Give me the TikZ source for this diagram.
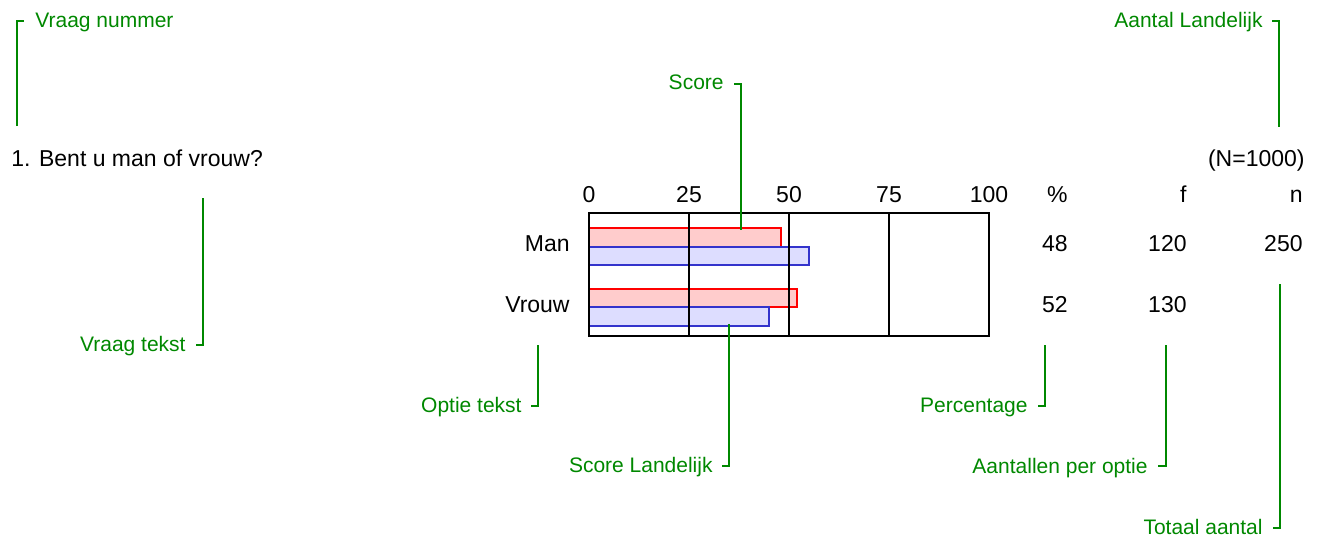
\documentclass[tikz,border=0pt]{standalone}
\usepackage{fontspec}
\setmainfont{Liberation Sans}
\begin{document}
\begin{tikzpicture}[x=0.5pt,y=-0.5pt]
\definecolor{anngreen}{RGB}{0,136,0}
\definecolor{barred}{RGB}{255,0,0}
\definecolor{barpink}{RGB}{255,204,204}
\definecolor{barblue}{RGB}{51,51,204}
\definecolor{barlblue}{RGB}{221,221,255}
\tikzset{
  ann/.style={text=anngreen,inner sep=0pt,font=\fontsize{10.5}{12}\selectfont},
  gline/.style={draw=anngreen,line width=1.45pt},
  txt/.style={text=black,inner sep=0pt,font=\fontsize{11.5}{13}\selectfont},
  frame/.style={draw=black,line width=1.2pt},
  redbar/.style={draw=barred,fill=barpink,line width=1pt},
  bluebar/.style={draw=barblue,fill=barlblue,line width=1pt}
}
\useasboundingbox (0,0) rectangle (1324,541);
% bars
\draw[redbar] (589,228) rectangle (781,247);
\draw[bluebar] (589,247) rectangle (809,265);
\draw[redbar] (589,288.5) rectangle (797,307);
\draw[bluebar] (589,307) rectangle (769,326);
% frame and grid
\draw[frame] (589,213) rectangle (989,336);
\foreach \gx in {689,789,889} \draw[frame] (\gx,213) -- (\gx,336);
% axis labels
\node[txt,anchor=base] (a0) at (589,202) {0};
\node[txt,anchor=base] (a25) at (689,202) {25};
\node[txt,anchor=base] (a50) at (789,202) {50};
\node[txt,anchor=base] (a75) at (889,202) {75};
\node[txt,anchor=base] (a100) at (989,202) {100};
\node[txt,anchor=base east] (hp) at (1068,202) {\%};
\node[txt,anchor=base east] (hf) at (1187,202) {f};
\node[txt,anchor=base east] (hn) at (1303,202) {n};
% black texts
\node[txt,anchor=base west] (q) at (11,166) {1. Bent u man of vrouw?};
\node[txt,anchor=base east] (N) at (1305,166) {(N=1000)};
\node[txt,anchor=base east] (man) at (570,251) {Man};
\node[txt,anchor=base east] (vrouw) at (570,312) {Vrouw};
\node[txt,anchor=base east] (p1) at (1068,251) {48};
\node[txt,anchor=base east] (f1) at (1187,251) {120};
\node[txt,anchor=base east] (n1) at (1303,251) {250};
\node[txt,anchor=base east] (p2) at (1068,312) {52};
\node[txt,anchor=base east] (f2) at (1187,312) {130};
% annotations
\node[ann,anchor=base west] (vn) at (35,27) {Vraag nummer};
\coordinate (vn1) at (17,126); \coordinate (vn2) at (17,21); \coordinate (vn3) at (24,21);
\draw[gline] (vn1) -- (vn2) -- (vn3);
\node[ann,anchor=base east] (vt) at (186,351) {Vraag tekst};
\coordinate (vt1) at (203,198); \coordinate (vt2) at (203,345); \coordinate (vt3) at (196,345);
\draw[gline] (vt1) -- (vt2) -- (vt3);
\node[ann,anchor=base east] (sc) at (724,89) {Score};
\coordinate (sc1) at (734,84); \coordinate (sc2) at (741,84); \coordinate (sc3) at (741,230);
\draw[gline] (sc1) -- (sc2) -- (sc3);
\node[ann,anchor=base east] (al) at (1263,27) {Aantal Landelijk};
\coordinate (al1) at (1272,21); \coordinate (al2) at (1279,21); \coordinate (al3) at (1279,127);
\draw[gline] (al1) -- (al2) -- (al3);
\node[ann,anchor=base east] (ot) at (522,412) {Optie tekst};
\coordinate (ot1) at (538,345); \coordinate (ot2) at (538,406); \coordinate (ot3) at (531,406);
\draw[gline] (ot1) -- (ot2) -- (ot3);
\node[ann,anchor=base east] (sl) at (713,472) {Score Landelijk};
\coordinate (sl1) at (729,324); \coordinate (sl2) at (729,466); \coordinate (sl3) at (722,466);
\draw[gline] (sl1) -- (sl2) -- (sl3);
\node[ann,anchor=base east] (pc) at (1028,412) {Percentage};
\coordinate (pc1) at (1045,345); \coordinate (pc2) at (1045,406); \coordinate (pc3) at (1038,406);
\draw[gline] (pc1) -- (pc2) -- (pc3);
\node[ann,anchor=base east] (ap) at (1148,473) {Aantallen per optie};
\coordinate (ap1) at (1166,345); \coordinate (ap2) at (1166,466); \coordinate (ap3) at (1158,466);
\draw[gline] (ap1) -- (ap2) -- (ap3);
\node[ann,anchor=base east] (ta) at (1263,534) {Totaal aantal};
\coordinate (ta1) at (1280,284); \coordinate (ta2) at (1280,528); \coordinate (ta3) at (1273,528);
\draw[gline] (ta1) -- (ta2) -- (ta3);
\end{tikzpicture}
\end{document}
